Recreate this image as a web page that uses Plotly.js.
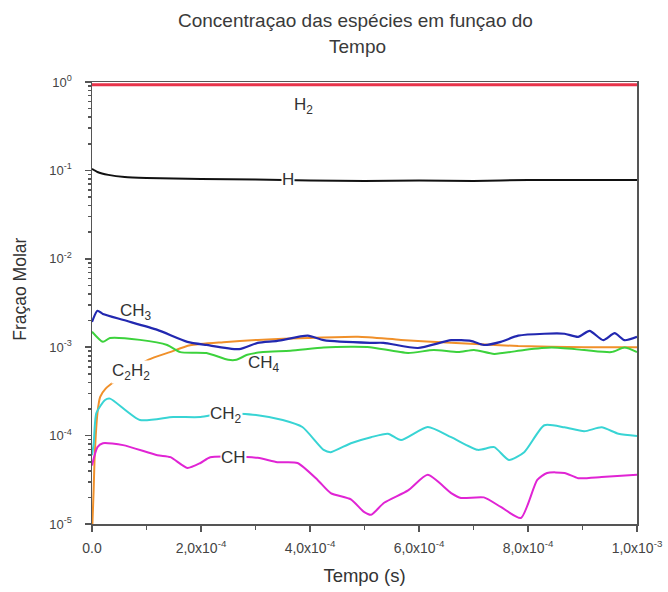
<!DOCTYPE html>
<html>
<head>
<meta charset="utf-8">
<script src="https://cdn.plot.ly/plotly-3.0.1.min.js"></script>
<style>html,body{margin:0;padding:0;background:#fff;}#chart{width:668px;height:592px;}</style>
</head>
<body>
<div id="chart"></div>
<script>
// ---- Data ----
const tH2 = [0, 1e-4, 2e-4, 3e-4, 4e-4, 5e-4, 6e-4, 7e-4, 8e-4, 9e-4, 1e-3];
const yH2 = [0.93, 0.93, 0.93, 0.93, 0.93, 0.93, 0.93, 0.93, 0.93, 0.93, 0.93];

const tH = [0, 1e-5, 3e-5, 6e-5, 1e-4, 1.5e-4, 2e-4, 3e-4, 4e-4, 5e-4, 6e-4, 7e-4, 8e-4, 9e-4, 1e-3];
const yH = [0.104, 0.096, 0.089, 0.084, 0.082, 0.081, 0.080, 0.079, 0.077, 0.076, 0.077, 0.076, 0.078, 0.078, 0.078];

const tCH3 = [0, 1e-5, 2e-5, 5.8e-5, 1.2e-4, 1.75e-4, 2.1e-4, 2.7e-4, 3.04e-4, 3.4e-4, 3.96e-4, 4.25e-4, 5.1e-4, 5.35e-4, 5.98e-4, 6.59e-4, 6.95e-4, 7.19e-4, 7.5e-4, 7.82e-4, 8.3e-4, 8.67e-4, 8.92e-4, 9.13e-4, 9.38e-4, 9.59e-4, 9.77e-4, 1e-3];
const yCH3 = [1.93e-3, 2.58e-3, 2.38e-3, 2.03e-3, 1.57e-3, 1.15e-3, 1.06e-3, 9.5e-4, 1.12e-3, 1.18e-3, 1.35e-3, 1.2e-3, 1.12e-3, 1.12e-3, 9.8e-4, 1.2e-3, 1.18e-3, 1.06e-3, 1.15e-3, 1.35e-3, 1.42e-3, 1.42e-3, 1.31e-3, 1.53e-3, 1.2e-3, 1.44e-3, 1.2e-3, 1.31e-3];

const tCH4 = [0, 2e-5, 3.3e-5, 8.8e-5, 1.38e-4, 1.62e-4, 2.1e-4, 2.5e-4, 2.65e-4, 2.85e-4, 3.14e-4, 3.64e-4, 4.25e-4, 4.75e-4, 5.1e-4, 5.8e-4, 6.27e-4, 6.72e-4, 7.01e-4, 7.38e-4, 7.93e-4, 8.43e-4, 9.03e-4, 9.53e-4, 9.77e-4, 1e-3];
const yCH4 = [1.5e-3, 1.15e-3, 1.27e-3, 1.21e-3, 1.06e-3, 8.8e-4, 8.6e-4, 7.2e-4, 7.2e-4, 8.2e-4, 8.8e-4, 9.1e-4, 9.9e-4, 1.01e-3, 1.0e-3, 8.6e-4, 9.3e-4, 8.8e-4, 9.3e-4, 8.4e-4, 9.3e-4, 9.9e-4, 9.3e-4, 8.8e-4, 9.9e-4, 8.8e-4];

const tC2H2 = [0, 1e-6, 3e-6, 5e-6, 1e-5, 1.5e-5, 2.5e-5, 4.5e-5, 1.03e-4, 1.43e-4, 1.8e-4, 2.41e-4, 3.04e-4, 3.96e-4, 4.88e-4, 5.67e-4, 6.59e-4, 7.82e-4, 9.03e-4, 1e-3];
const yC2H2 = [8e-6, 1.11e-5, 2.43e-5, 6.0e-5, 1.8e-4, 2.74e-4, 3.4e-4, 4.26e-4, 7.2e-4, 8.8e-4, 1.05e-3, 1.14e-3, 1.21e-3, 1.27e-3, 1.31e-3, 1.21e-3, 1.12e-3, 1.03e-3, 1.0e-3, 1.0e-3];

const tCH2 = [0, 3e-6, 8e-6, 2.4e-5, 3.3e-5, 8.8e-5, 1.49e-4, 1.99e-4, 2.4e-4, 3.04e-4, 3.5e-4, 3.86e-4, 4.25e-4, 4.38e-4, 4.75e-4, 5.12e-4, 5.43e-4, 5.67e-4, 6.16e-4, 6.59e-4, 7.08e-4, 7.38e-4, 7.65e-4, 7.93e-4, 8.3e-4, 8.67e-4, 9.03e-4, 9.35e-4, 9.66e-4, 1e-3];
const yCH2 = [6e-5, 8e-5, 1.8e-4, 2.53e-4, 2.62e-4, 1.5e-4, 1.62e-4, 1.62e-4, 1.79e-4, 1.7e-4, 1.5e-4, 1.25e-4, 6.9e-5, 6.5e-5, 8.2e-5, 9.6e-5, 1.05e-4, 8.9e-5, 1.25e-4, 9.6e-5, 6.9e-5, 7.4e-5, 5.3e-5, 6.5e-5, 1.31e-4, 1.24e-4, 1.12e-4, 1.24e-4, 1.05e-4, 9.9e-5];

const tCH = [0, 1e-5, 2e-5, 5.7e-5, 1.2e-4, 1.44e-4, 1.75e-4, 1.99e-4, 2.17e-4, 3.04e-4, 3.4e-4, 3.77e-4, 4.14e-4, 4.38e-4, 4.75e-4, 4.99e-4, 5.12e-4, 5.36e-4, 5.8e-4, 6.16e-4, 6.59e-4, 6.77e-4, 7.19e-4, 7.5e-4, 7.87e-4, 8.17e-4, 8.35e-4, 8.67e-4, 8.92e-4, 9.35e-4, 1e-3];
const yCH = [4.6e-5, 7.4e-5, 8.2e-5, 7.8e-5, 6.0e-5, 5.7e-5, 4.3e-5, 4.9e-5, 5.7e-5, 5.6e-5, 5.0e-5, 4.9e-5, 3.15e-5, 2.24e-5, 1.9e-5, 1.37e-5, 1.27e-5, 1.74e-5, 2.4e-5, 3.6e-5, 2.24e-5, 1.97e-5, 2.0e-5, 1.56e-5, 1.17e-5, 3.15e-5, 3.78e-5, 3.78e-5, 3.3e-5, 3.4e-5, 3.6e-5];

// Curve labels
const labelText = ["H<sub>2</sub>", "H", "CH<sub>3</sub>", "CH<sub>4</sub>", "C<sub>2</sub>H<sub>2</sub>", "CH<sub>2</sub>", "CH"];
const labelT    = [3.88e-4, 3.59e-4, 0.80e-4, 3.15e-4, 0.72e-4, 2.45e-4, 2.6e-4];
const labelY    = [0.54, 0.078, 2.5e-3, 6.5e-4, 5.2e-4, 1.71e-4, 5.6e-5];
const labelBoxed = [false, true, false, false, true, true, true];

// Tick labels
const xTickVals = [0, 2e-4, 4e-4, 6e-4, 8e-4, 1e-3];
const xTickText = ["0.0", "2,0x10<sup>-4</sup>", "4,0x10<sup>-4</sup>", "6,0x10<sup>-4</sup>", "8,0x10<sup>-4</sup>", "1,0x10<sup>-3</sup>"];
const yTickVals = [1e-5, 1e-4, 1e-3, 1e-2, 1e-1, 1];
const yTickText = ["10<sup>-5</sup>", "10<sup>-4</sup>", "10<sup>-3</sup>", "10<sup>-2</sup>", "10<sup>-1</sup>", "10<sup>0</sup>"];

const titleLine1 = 'Concentraçao das espécies em funçao do';
const titleLine2 = 'Tempo';
const xTitle = 'Tempo (s)';
const yTitle = 'Fraçao Molar';

// ---- Plot ----
const FONT = 'Liberation Sans, Arial, sans-serif';
function tr(x, y, color, w) {
  return {x: x, y: y, type: 'scatter', mode: 'lines', line: {color: color, width: w, shape: 'spline', smoothing: 0.6}, hoverinfo: 'skip'};
}
const traces = [
  tr(tC2H2, yC2H2, '#f0902a', 2),
  tr(tCH, yCH, '#e024d4', 2),
  tr(tCH2, yCH2, '#38d4d4', 2),
  tr(tCH4, yCH4, '#3cd23c', 2),
  tr(tCH3, yCH3, '#2228b0', 2.2),
  tr(tH, yH, '#111111', 2),
  tr(tH2, yH2, '#e8334a', 3)
];

const minorY = [];
for (let k = -5; k < 0; k++) for (let m = 2; m <= 9; m++) minorY.push(m * Math.pow(10, k));
const minorX = [];
for (let i = 1; i < 10; i += 2) minorX.push(i * 1e-4);

const annotations = labelText.map((t, i) => ({
  x: labelT[i], y: Math.log10(labelY[i]), xref: 'x', yref: 'y', text: t, showarrow: false,
  font: {family: FONT, size: 17, color: '#333'},
  bgcolor: labelBoxed[i] ? '#ffffff' : 'rgba(0,0,0,0)', borderpad: 0
}));
annotations.push({xref: 'paper', yref: 'paper', x: 0.5, y: 1, xshift: -9, yshift: 62, yanchor: 'middle', showarrow: false,
  text: titleLine1, font: {family: FONT, size: 19, color: '#3a3a3a'}});
annotations.push({xref: 'paper', yref: 'paper', x: 0.5, y: 1, xshift: -7, yshift: 36, yanchor: 'middle', showarrow: false,
  text: titleLine2, font: {family: FONT, size: 19, color: '#3a3a3a'}});
annotations.push({xref: 'paper', yref: 'paper', x: 0, y: 0.53, xshift: -72, xanchor: 'center', yanchor: 'middle', textangle: -90, showarrow: false,
  text: yTitle, font: {family: FONT, size: 17.5, color: '#333'}});

const layout = {
  width: 668, height: 592,
  margin: {l: 92, r: 31, t: 82, b: 68},
  paper_bgcolor: '#fff', plot_bgcolor: '#fff',
  showlegend: false,
  font: {family: FONT, color: '#444'},
  xaxis: {
    range: [0, 1e-3], showgrid: false, zeroline: false,
    showline: true, linecolor: '#555', linewidth: 1.5, mirror: true,
    ticks: 'outside', ticklen: 6, tickwidth: 1.5, tickcolor: '#555',
    tickmode: 'array', tickvals: xTickVals, ticktext: xTickText,
    tickfont: {size: 14, color: '#444'}, ticklabelstandoff: 5,
    minor: {tickmode: 'array', tickvals: minorX, ticks: 'outside', ticklen: 4, tickcolor: '#555', showgrid: false},
    title: {text: xTitle, font: {size: 18.5, color: '#333'}, standoff: 14}
  },
  yaxis: {
    type: 'log', range: [-5, 0], showgrid: false, zeroline: false,
    showline: true, linecolor: '#555', linewidth: 1.5, mirror: true,
    ticks: 'outside', ticklen: 6, tickwidth: 1.5, tickcolor: '#555',
    tickmode: 'array', tickvals: yTickVals, ticktext: yTickText,
    tickfont: {size: 13, color: '#444'}, ticklabelstandoff: 10,
    minor: {tickmode: 'array', tickvals: minorY, ticks: 'outside', ticklen: 3, tickcolor: '#555', showgrid: false}
  },
  annotations: annotations
};

Plotly.newPlot('chart', traces, layout, {displayModeBar: false, staticPlot: true});
</script>
</body>
</html>
